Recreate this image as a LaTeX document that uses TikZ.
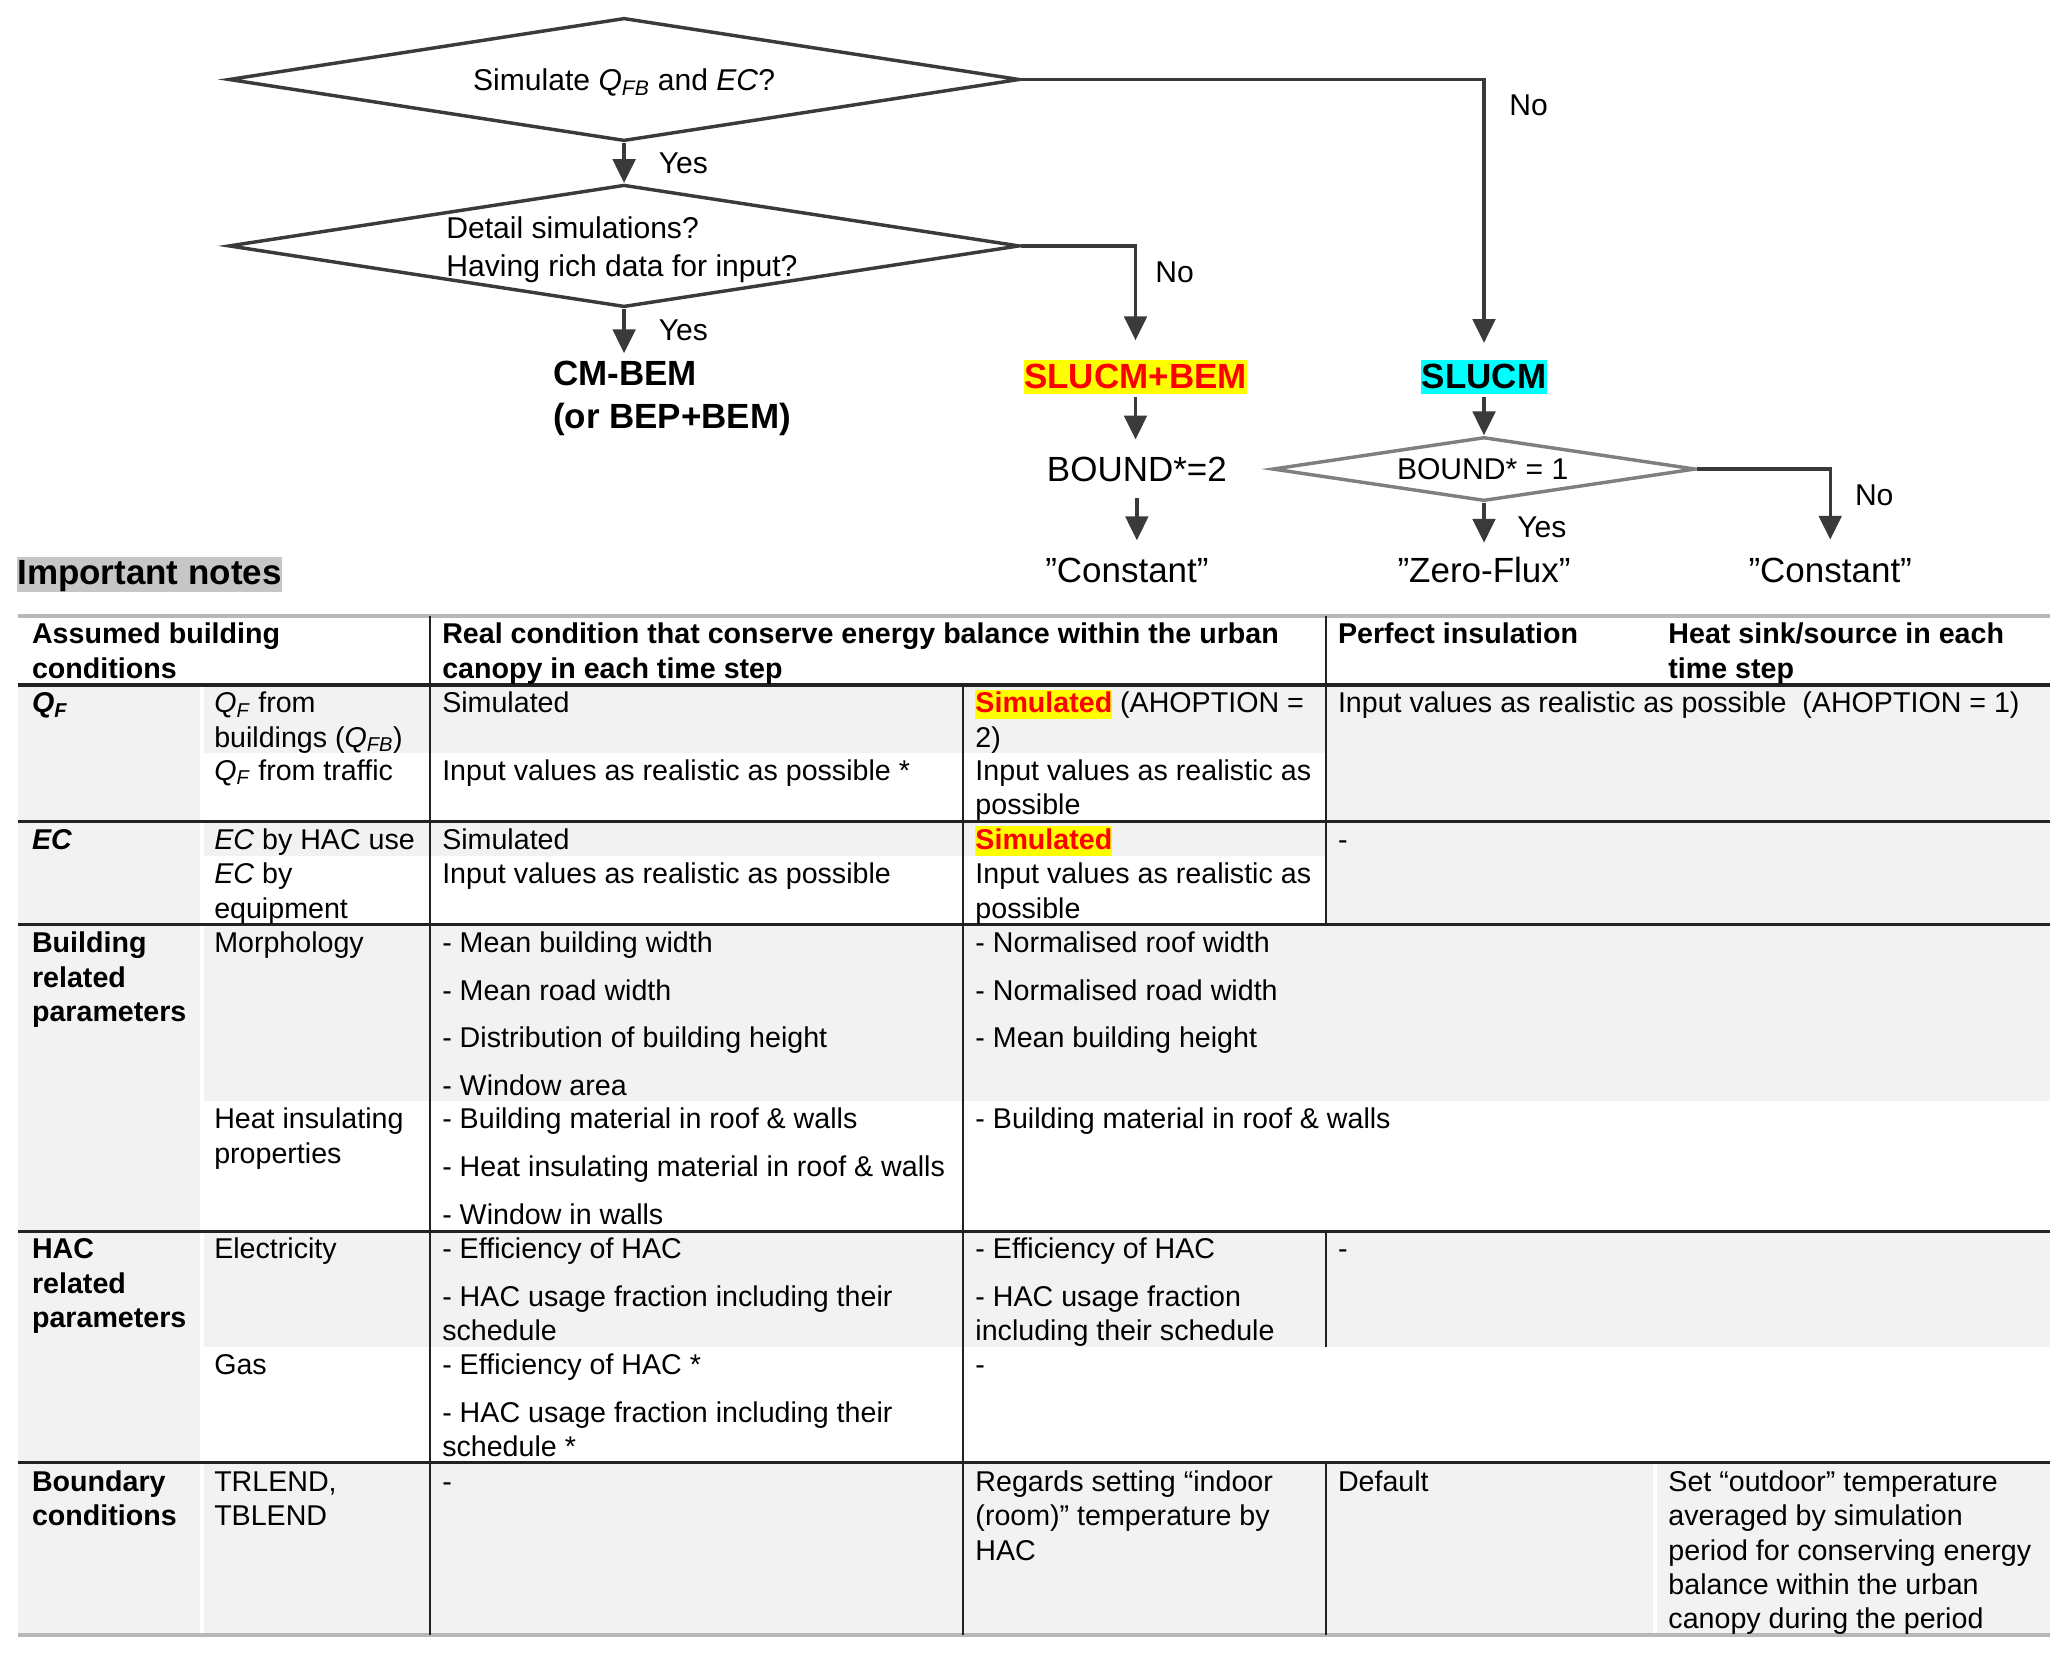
\documentclass[tikz,border=0pt]{standalone}
\usepackage{fontspec}
\setmainfont{Liberation Sans}
\usetikzlibrary{shapes.geometric,arrows.meta}
\definecolor{fl}{HTML}{3A3A3A}
\definecolor{dgray}{HTML}{7F7F7F}
\definecolor{cellgray}{HTML}{F2F2F2}
\definecolor{notegray}{HTML}{C6C6C6}
\definecolor{rulegray}{HTML}{B8B8B8}
\definecolor{ruledark}{HTML}{222222}
\definecolor{hlred}{HTML}{FF0000}
\definecolor{hlyellow}{HTML}{FFFF00}
\definecolor{hlcyan}{HTML}{00FFFF}
\newcommand{\qfb}{\textit{Q}\textsubscript{\textit{FB}}}
\newcommand{\qf}{\textit{Q}\textsubscript{\textit{F}}}
\newcommand{\hlsim}{{\setlength{\fboxsep}{0pt}\colorbox{hlyellow}{\rule[-4.7pt]{0pt}{22pt}\textcolor{hlred}{\bfseries Simulated}}}}
\begin{document}
\begin{tikzpicture}[x=1pt,y=-1pt,
  flow/.style={draw=fl, line width=2.6pt},
  arr/.style={flow, -{Triangle[length=18pt,width=17pt]}},
  dia/.style={diamond, draw=fl, line width=2.6pt, inner sep=0pt, aspect=6},
  ftxt/.style={font=\fontsize{22.7}{28.8}\selectfont, inner sep=0pt, anchor=base},
  btxt/.style={font=\bfseries\fontsize{26.4}{32.3}\selectfont, inner sep=0pt},
  rtxt/.style={font=\fontsize{26.4}{32.3}\selectfont, inner sep=0pt, anchor=base},
  lbl/.style={font=\fontsize{22.7}{28}\selectfont, inner sep=0pt, anchor=base west},
  hl/.style={font=\bfseries\fontsize{26.4}{32.3}\selectfont, inner xsep=0.3pt, inner ysep=0pt, text height=22pt, text depth=4pt, anchor=base},
  cell/.style={font=\fontsize{21.6}{25.9}\selectfont, inner sep=0pt, anchor=base west, align=left},
  hcell/.style={cell, font=\bfseries\fontsize{21.6}{25.9}\selectfont},
  bg/.style={fill=cellgray, draw=none},
  hrule/.style={draw=ruledark, line width=2.5pt},
  vrule/.style={draw=ruledark, line width=1.6pt},
  grule/.style={draw=rulegray, line width=3pt}
]
\useasboundingbox (0,0) rectangle (1560,1249);
\fill[white] (0,0) rectangle (1560,1249);

% ---------------- flowchart ----------------
\node[dia, minimum width=597pt, minimum height=93pt] (d1) at (471,60) {};
\node[ftxt] (d1t) at (471,68.1) {Simulate \qfb{} and \textit{EC}?};
\node[dia, minimum width=597pt, minimum height=92.4pt] (d2) at (471,185.6) {};
% multi-line nodes: the base anchor is the baseline of the LAST line
\node[ftxt, anchor=base west, align=left] (d2t) at (336.7,208.9) {Detail simulations?\\Having rich data for input?};
\node[btxt, anchor=base west, align=left] (cm) at (417.2,323.5) {CM-BEM\\(or BEP+BEM)};
\node[hl, fill=hlyellow, text=hlred] (sb) at (857,293.5) {SLUCM+BEM};
\node[hl, fill=hlcyan, text=black] (sl) at (1120,293.5) {SLUCM};
\node[rtxt] (b2) at (858,363.3) {BOUND*=2};
\node[rtxt] (c1) at (850.5,439.9) {”Constant”};
\node[dia, draw=dgray, minimum width=319.4pt, minimum height=48.3pt] (d3) at (1120,354) {};
\node[ftxt] (d3t) at (1119,362.1) {BOUND* = 1};
\node[rtxt] (zf) at (1120,439.9) {”Zero-Flux”};
\node[rtxt] (c2) at (1381.3,439.9) {”Constant”};

\node[lbl] (y1) at (497,130.8) {Yes};
\node[lbl] (y2) at (497,257.1) {Yes};
\node[lbl] (n1) at (1139,87.5) {No};
\node[lbl] (n2) at (871.7,213.1) {No};
\node[lbl] (y3) at (1145,406) {Yes};
\node[lbl] (n3) at (1399.8,381.3) {No};

\draw[arr] (d1.south) -- (d2.north);
\draw[arr, shorten >=6pt] (d2.south) -- (d2.south |- cm.north);
\draw[arr, shorten >=14.5pt] (d2.east) -| (sb.north);
\draw[arr, shorten >=12.5pt] (d1.east) -| (sl.north);
\draw[arr, shorten <=2pt, shorten >=13pt] (sb.south) -- (sb.south |- b2.north);
\draw[arr, shorten <=12pt, shorten >=13.5pt] (b2.south) -- (b2.south |- c1.north);
\draw[arr, shorten <=2pt] (sl.south) -- (d3.north);
\draw[arr, shorten >=11pt] (d3.south) -- (zf.north);
\draw[arr, shorten >=14pt] (d3.east) -| (c2.north);

% ---------------- notes title ----------------
\node[font=\bfseries\fontsize{26.4}{32.3}\selectfont, fill=notegray, inner xsep=0.6pt, inner ysep=0pt, text height=20.4pt, text depth=5.6pt, anchor=base] (notes) at (112.8,441) {Important notes};

% ---------------- table backgrounds ----------------
\fill[bg] (13.3,517) rectangle (151,1234);
\fill[bg] (153.6,517) rectangle (324.5,568);
\fill[bg] (153.6,620) rectangle (324.5,646);
\fill[bg] (153.6,697.6) rectangle (324.5,831);
\fill[bg] (153.6,929.6) rectangle (324.5,1016.4);
\fill[bg] (153.6,1104) rectangle (324.5,1234);
\fill[bg] (324.5,517) rectangle (1000.5,568);
\fill[bg] (324.5,620) rectangle (1000.5,646);
\fill[bg] (324.5,697.6) rectangle (1547,831);
\fill[bg] (324.5,929.6) rectangle (1547,1016.4);
\fill[bg] (324.5,1104) rectangle (1247.5,1234);
\fill[bg] (1250.5,1104) rectangle (1547,1234);
\fill[bg] (1000.5,517) rectangle (1547,697.6);

% ---------------- table rules ----------------
\draw[grule] (13.3,464.9) -- (1547,464.9);
\draw[grule] (13.3,1234) -- (1547,1234);
\foreach \yy in {517,620,697.6,929.6,1104} \draw[hrule] (13.3,\yy) -- (1547,\yy);
\draw[vrule] (324.5,464.9) -- (324.5,1234);
\draw[vrule] (727,517) -- (727,1234);
\draw[vrule] (1000.5,464.9) -- (1000.5,697.6);
\draw[vrule] (1000.5,929.6) -- (1000.5,1016.4);
\draw[vrule] (1000.5,1104) -- (1000.5,1234);

% ---------------- table text (y = baseline of last line) ----------------
\node[hcell] (h1) at (24,511.8) {Assumed building\\conditions};
\node[hcell] (h2) at (333.6,511.8) {Real condition that conserve energy balance within the urban\\canopy in each time step};
\node[hcell] (h3) at (1009.6,485.9) {Perfect insulation};
\node[hcell] (h4) at (1259,511.8) {Heat sink/source in each\\time step};

\node[hcell] (r1a) at (24,538) {\textit{Q}\textsubscript{\textit{F}}};
\node[cell] (r1b) at (161.5,563.9) {\qf{} from\\buildings (\qfb)};
\node[cell] (r1c) at (161.5,589) {\qf{} from traffic};
\node[cell] (r1d) at (333.6,538) {Simulated};
\node[cell] (r1e) at (333.6,589) {Input values as realistic as possible *};
\node[cell] (r1f) at (736,563.9) {\hlsim{} (AHOPTION =\\2)};
\node[cell] (r1g) at (736,614.9) {Input values as realistic as\\possible};
\node[cell] (r1h) at (1009.6,538) {Input values as realistic as possible\ \ (AHOPTION = 1)};

\node[hcell] (r2a) at (24,641) {\textit{EC}};
\node[cell] (r2b) at (161.5,641) {\textit{EC} by HAC use};
\node[cell] (r2c) at (161.5,692.9) {\textit{EC} by\\equipment};
\node[cell] (r2d) at (333.6,641) {Simulated};
\node[cell] (r2e) at (333.6,667) {Input values as realistic as possible};
\node[cell] (r2f) at (736,641) {\hlsim};
\node[cell] (r2g) at (736,692.9) {Input values as realistic as\\possible};
\node[cell] (r2h) at (1009.6,641) {-};

\node[hcell] (r3a) at (24,770.8) {Building\\related\\parameters};
\node[cell] (r3b) at (161.5,719) {Morphology};
\node[cell] (r3c) at (333.6,826.7) {- Mean building width\\[10pt]- Mean road width\\[10pt]- Distribution of building height\\[10pt]- Window area};
\node[cell] (r3d) at (736,790.8) {- Normalised roof width\\[10pt]- Normalised road width\\[10pt]- Mean building height};
\node[cell] (r3e) at (161.5,877.9) {Heat insulating\\properties};
\node[cell] (r3f) at (333.6,923.8) {- Building material in roof \& walls\\[10pt]- Heat insulating material in roof \& walls\\[10pt]- Window in walls};
\node[cell] (r3g) at (736,852) {- Building material in roof \& walls};

\node[hcell] (r4a) at (24,1001.8) {HAC\\related\\parameters};
\node[cell] (r4b) at (161.5,950) {Electricity};
\node[cell] (r4c) at (333.6,1011.8) {- Efficiency of HAC\\[10pt]- HAC usage fraction including their\\schedule};
\node[cell] (r4d) at (736,1011.8) {- Efficiency of HAC\\[10pt]- HAC usage fraction\\including their schedule};
\node[cell] (r4e) at (1009.6,950) {-};
\node[cell] (r4f) at (161.5,1037.7) {Gas};
\node[cell] (r4g) at (333.6,1099.5) {- Efficiency of HAC *\\[10pt]- HAC usage fraction including their\\schedule *};
\node[cell] (r4h) at (736,1037.7) {-};

\node[hcell] (r5a) at (24,1151.6) {Boundary\\conditions};
\node[cell] (r5b) at (161.5,1151.6) {TRLEND,\\TBLEND};
\node[cell] (r5c) at (333.6,1125.7) {-};
\node[cell] (r5d) at (736,1177.5) {Regards setting “indoor\\(room)” temperature by\\HAC};
\node[cell] (r5e) at (1009.6,1125.7) {Default};
\node[cell] (r5f) at (1259,1229.3) {Set “outdoor” temperature\\averaged by simulation\\period for conserving energy\\balance within the urban\\canopy during the period};
\end{tikzpicture}
\end{document}
